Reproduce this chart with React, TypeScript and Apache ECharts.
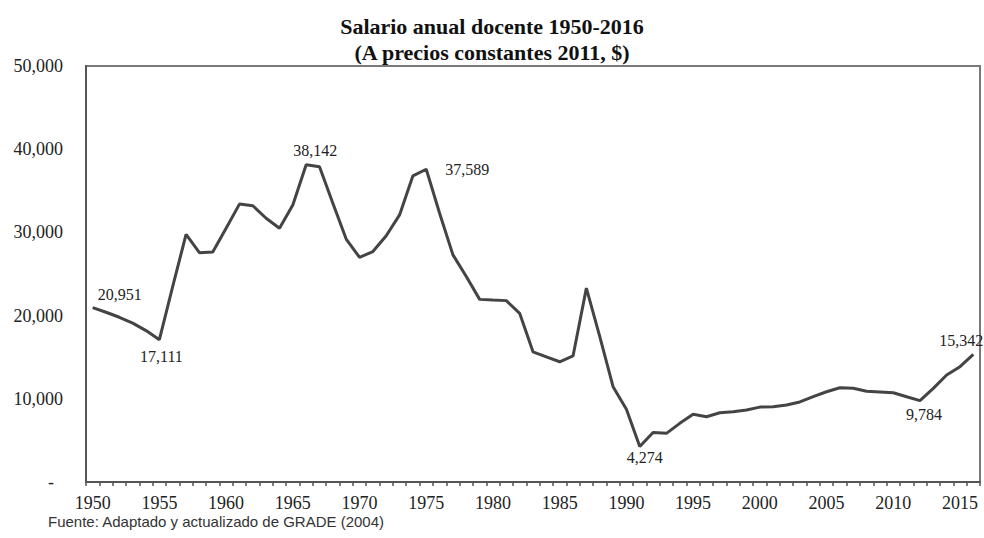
import React, { useEffect, useRef } from "react";
import * as echarts from "echarts";

const years: string[] = [];
for (let y = 1950; y <= 2016; y++) years.push(String(y));

const salaries: number[] = [
  20951, 20400, 19800, 19100, 18200, 17111, 23500, 29770, 27560, 27640,
  30500, 33400, 33200, 31700, 30500, 33300, 38142, 37900, 33500, 29200,
  27000, 27700, 29600, 32100, 36800, 37589, 32300, 27300, 24700, 21950,
  21870, 21800, 20270, 15650, 15050, 14450, 15150, 23300, 17500, 11450,
  8750, 4274, 5950, 5850, 7050, 8150, 7850, 8320, 8450, 8650,
  9000, 9050, 9250, 9620, 10250, 10850, 11330, 11260, 10900, 10820,
  10730, 10250, 9784, 11260, 12860, 13860, 15342,
];

const labelledYears = ["1950", "1955", "1966", "1975", "1991", "2012", "2016"];

const titleLines = ["Salario anual docente 1950-2016", "(A precios constantes 2011, $)"];
const sourceNote = "Fuente: Adaptado y actualizado de GRADE (2004)";

const labelPlacement: Record<string, any> = {
  "1950": { position: "right", distance: 0, offset: [5, -13] },
  "1955": { position: "bottom", distance: 9, offset: [2, 0] },
  "1966": { position: "top", distance: 6, offset: [9, 0] },
  "1975": { position: "right", distance: 19, offset: [0, 0] },
  "1991": { position: "bottom", distance: 3, offset: [5, 0] },
  "2012": { position: "bottom", distance: 6, offset: [4, 0] },
  "2016": { position: "top", distance: 6, offset: [-12, 0] },
};

const fmt = (v: number) => v.toLocaleString("en-US");

export default function App() {
  const ref = useRef<HTMLDivElement>(null);
  useEffect(() => {
    if (!ref.current) return;
    const chart = echarts.init(ref.current, undefined, { renderer: "svg" });
    const data = salaries.map((v, i) => {
      const yr = years[i];
      if (labelledYears.includes(yr)) {
        const p = labelPlacement[yr];
        return {
          value: v,
          label: {
            show: true,
            position: p.position,
            distance: p.distance,
            offset: p.offset,
            formatter: () => fmt(v),
          },
        };
      }
      return { value: v };
    });
    chart.setOption({
      animation: false,
      backgroundColor: "#ffffff",
      title: {
        text: titleLines.join("\n"),
        left: "center",
        top: 8,
        textStyle: {
          fontFamily: "Liberation Serif",
          fontSize: 22,
          fontWeight: "bold",
          lineHeight: 26,
          color: "#111",
        },
      },
      grid: {
        left: 86,
        right: 4,
        top: 66,
        bottom: 56,
        show: true,
        borderColor: "#7a7a7a",
        borderWidth: 2,
      },
      xAxis: {
        type: "category",
        data: years,
        boundaryGap: true,
        axisLine: { show: true, lineStyle: { color: "#555", width: 2 } },
        axisTick: { show: true, interval: 0, length: 4, lineStyle: { color: "#555", width: 1.5 } },
        axisLabel: {
          interval: 4,
          margin: 12,
          fontFamily: "Liberation Serif",
          fontSize: 18,
          color: "#222",
        },
        splitLine: { show: false },
      },
      yAxis: {
        type: "value",
        min: 0,
        max: 50000,
        interval: 10000,
        axisLine: { show: true, lineStyle: { color: "#555", width: 2 } },
        axisTick: { show: false },
        splitLine: { show: false },
        axisLabel: {
          margin: 23,
          fontFamily: "Liberation Serif",
          fontSize: 18,
          color: "#222",
          formatter: (v: number) => (v === 0 ? "-  " : fmt(v)),
        },
      },
      series: [
        {
          type: "line",
          data,
          symbol: "circle",
          symbolSize: 0,
          showSymbol: true,
          showAllSymbol: true,
          lineStyle: { color: "#444", width: 3 },
          itemStyle: { color: "#444" },
          label: {
            fontFamily: "Liberation Serif",
            fontSize: 16,
            color: "#222",
          },
          emphasis: { disabled: true },
        },
      ],
      graphic: [
        {
          type: "text",
          left: 48,
          top: 514,
          style: {
            text: sourceNote,
            fontFamily: "Liberation Sans",
            fontSize: 15,
            fill: "#333",
          },
        },
      ],
    });
    return () => chart.dispose();
  }, []);
  return (
    <div
      ref={ref}
      style={{ position: "absolute", left: 0, top: 0, width: 984, height: 538, background: "#fff" }}
    />
  );
}
